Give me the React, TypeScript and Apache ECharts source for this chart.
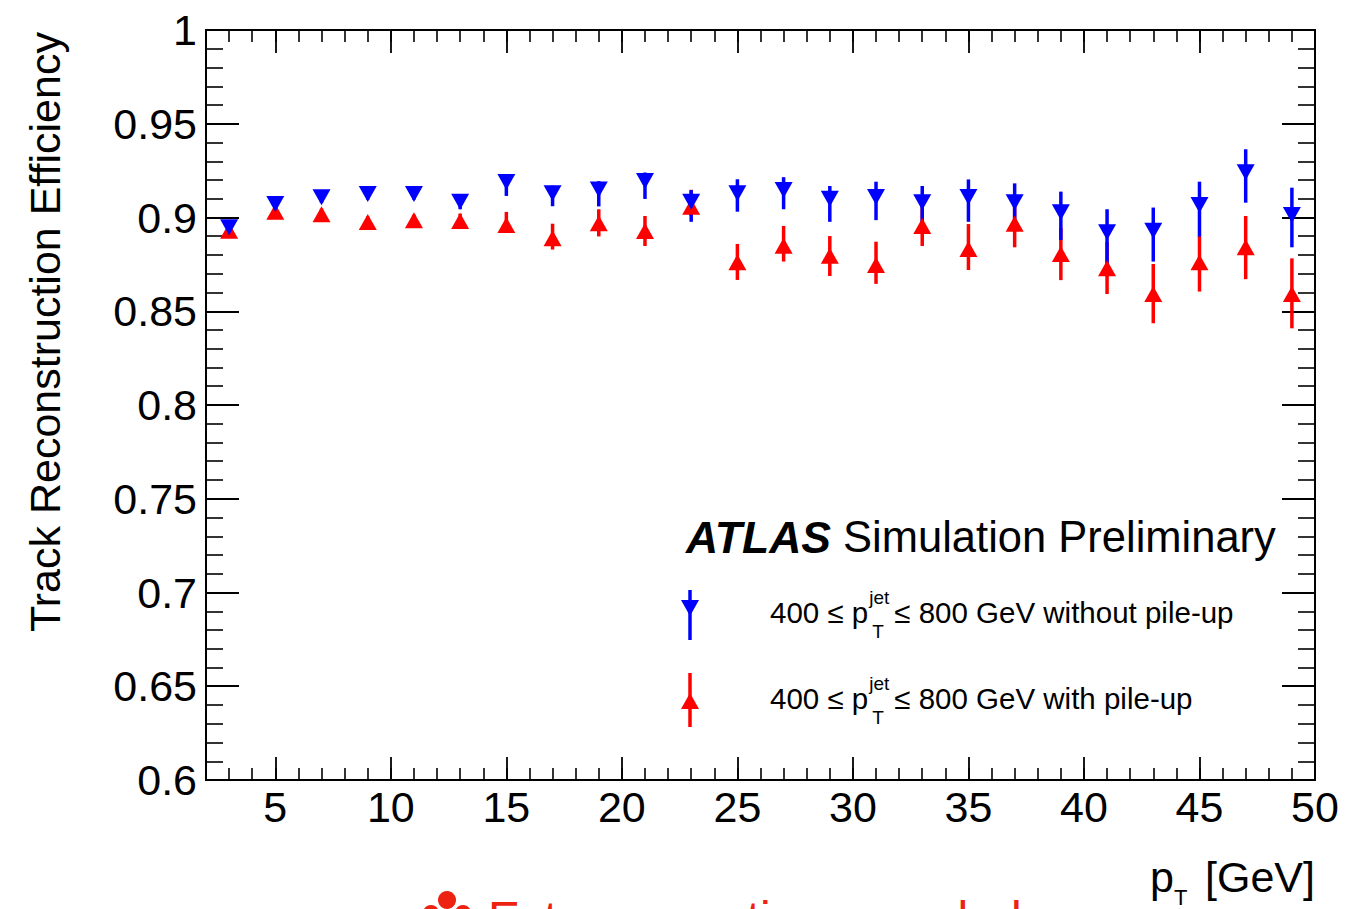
import React, { useEffect, useRef } from "react";
import * as echarts from "echarts";

// ---- data ----
const PT = [3, 5, 7, 9, 11, 13, 15, 17, 19, 21, 23, 25, 27, 29, 31, 33, 35, 37, 39, 41, 43, 45, 47, 49];

// 400 <= pT(jet) <= 800 GeV without pile-up (blue, down triangles)
const NOPU_EFF = [0.8948, 0.9072, 0.9108, 0.9125, 0.9125, 0.9084, 0.919, 0.913, 0.9149, 0.9195, 0.9084, 0.9129,
  0.9147, 0.91, 0.9109, 0.9081, 0.9109, 0.9081, 0.9028, 0.8921, 0.893, 0.9067, 0.9241, 0.9013];
const NOPU_ERR_UP = [0.002, 0.002, 0.002, 0.002, 0.002, 0.003, 0.004, 0.004, 0.0045, 0.0045, 0.0062, 0.0075,
  0.0068, 0.0068, 0.0082, 0.0087, 0.0094, 0.0101, 0.011, 0.0123, 0.0123, 0.0124, 0.0123, 0.0146];
const NOPU_ERR_DN = [0.003, 0.003, 0.003, 0.003, 0.003, 0.004, 0.0075, 0.007, 0.009, 0.0096, 0.0107, 0.0098,
  0.0103, 0.0123, 0.0123, 0.0121, 0.0132, 0.014, 0.0148, 0.0165, 0.0165, 0.0169, 0.0162, 0.0172];

// 400 <= pT(jet) <= 800 GeV with pile-up (red, up triangles)
const PU_EFF = [0.893, 0.9031, 0.9017, 0.8976, 0.8985, 0.8981, 0.896, 0.8889, 0.8969, 0.8928, 0.9058, 0.8761,
  0.885, 0.8796, 0.8747, 0.8955, 0.8832, 0.8967, 0.8805, 0.8729, 0.8592, 0.8761, 0.8841, 0.8592];
const PU_ERR_UP = [0.002, 0.003, 0.003, 0.003, 0.003, 0.004, 0.007, 0.0078, 0.0075, 0.008, 0.009, 0.0098,
  0.0105, 0.0105, 0.0124, 0.011, 0.0133, 0.012, 0.014, 0.014, 0.016, 0.014, 0.0167, 0.019];
const PU_ERR_DN = [0.002, 0.003, 0.003, 0.003, 0.003, 0.004, 0.004, 0.006, 0.007, 0.008, 0.005, 0.0094,
  0.0085, 0.0108, 0.0101, 0.0107, 0.0112, 0.0126, 0.0139, 0.0137, 0.0156, 0.0156, 0.017, 0.0183];

const X_MIN = 2;
const X_MAX = 50;
const X_MAJOR_TICKS = [5, 10, 15, 20, 25, 30, 35, 40, 45, 50];
const Y_MIN = 0.6;
const Y_MAX = 1;
const Y_STEP = 0.05;

const Y_TITLE = "Track Reconstruction Efficiency";
const X_TITLE_MAIN = "p";
const X_TITLE_SUB = "T";
const X_TITLE_UNIT = "[GeV]";
const ATLAS_LABEL = "ATLAS";
const ATLAS_SUFFIX = " Simulation Preliminary";
const LEG_PREFIX = "400 \u2264 p";
const LEG_SUP = "jet";
const LEG_SUB = "T";
const LEG_NOPU = "\u2264 800 GeV without pile-up";
const LEG_PU = "\u2264 800 GeV with pile-up";
const FOOT_TEXT = "Extra corrections needed";

const BLUE = "#0000ff";
const RED = "#ff0000";
const FONT = "'Liberation Sans', Arial, Helvetica, sans-serif";

function measure(text: string, font: string): number {
  const ctx = document.createElement("canvas").getContext("2d");
  if (!ctx) return text.length * 15;
  ctx.font = font;
  return ctx.measureText(text).width;
}

const errRender = (color: string) => (params: any, api: any) => {
  const x = api.value(0);
  const lo = api.value(2);
  const hi = api.value(3);
  const p1 = api.coord([x, lo]);
  const p2 = api.coord([x, hi]);
  return {
    type: "line",
    shape: { x1: p1[0], y1: p1[1], x2: p2[0], y2: p2[1] },
    style: { stroke: color, lineWidth: 3.5 },
  };
};

function xAxisDef(position: "top" | "bottom", major: boolean, labels: boolean) {
  return {
    type: "value",
    position,
    min: X_MIN,
    max: X_MAX,
    interval: 1,
    axisLine: { show: true, onZero: false, lineStyle: { color: "#000", width: 2 } },
    axisTick: major
      ? { show: true, inside: true, length: 23, customValues: X_MAJOR_TICKS, lineStyle: { color: "#000", width: 1.8 } }
      : { show: true, inside: true, length: 12, lineStyle: { color: "#000", width: 1.6 } },
    axisLabel: labels
      ? {
          show: true,
          customValues: X_MAJOR_TICKS,
          formatter: (v: number) => String(v),
          fontSize: 43,
          fontFamily: FONT,
          color: "#000",
          margin: 5,
        }
      : { show: false },
    splitLine: { show: false },
  };
}

function yAxisDef(position: "left" | "right", labels: boolean) {
  return {
    type: "value",
    position,
    min: Y_MIN,
    max: Y_MAX,
    interval: Y_STEP,
    axisLine: { show: true, onZero: false, lineStyle: { color: "#000", width: 2 } },
    axisTick: { show: true, inside: true, length: 33, lineStyle: { color: "#000", width: 1.8 } },
    minorTick: { show: true, splitNumber: 5, length: 17, lineStyle: { color: "#000", width: 1.6 } },
    axisLabel: labels
      ? {
          show: true,
          formatter: (v: number) => String(+v.toFixed(2)),
          fontSize: 43,
          fontFamily: FONT,
          color: "#000",
          margin: 9,
        }
      : { show: false },
    splitLine: { show: false },
    minorSplitLine: { show: false },
  };
}

export default function App() {
  const ref = useRef<HTMLDivElement>(null);

  useEffect(() => {
    if (!ref.current) return;
    document.body.style.margin = "0";
    const chart = echarts.init(ref.current, undefined, { renderer: "svg" });

    const legFont = `29.5px ${FONT}`;
    const legX = 770;
    const prefixW = measure(LEG_PREFIX, legFont);
    const supX = legX + prefixW + 1;
    const restX = supX + measure(LEG_SUP, `19px ${FONT}`) + 5;

    const legendRow = (y: number, color: string, down: boolean, label: string, barTop: number, barBot: number) => {
      const triY = down ? y - 4 : y + 3;
      const pts = down
        ? [[681, triY - 8], [699, triY - 8], [690, triY + 8]]
        : [[681, triY + 8], [699, triY + 8], [690, triY - 8]];
      return [
        { type: "line", shape: { x1: 690, y1: barTop, x2: 690, y2: barBot }, style: { stroke: color, lineWidth: 3.5 } },
        { type: "polygon", shape: { points: pts }, style: { fill: color } },
        {
          type: "text",
          x: legX,
          y,
          style: { text: LEG_PREFIX, font: legFont, fill: "#000", align: "left", verticalAlign: "middle" },
        },
        {
          type: "text",
          x: supX,
          y: y - 15,
          style: { text: LEG_SUP, font: `19px ${FONT}`, fill: "#000", align: "left", verticalAlign: "middle" },
        },
        {
          type: "text",
          x: supX + 3,
          y: y + 19,
          style: { text: LEG_SUB, font: `19px ${FONT}`, fill: "#000", align: "left", verticalAlign: "middle" },
        },
        {
          type: "text",
          x: restX,
          y,
          style: { text: label, font: legFont, fill: "#000", align: "left", verticalAlign: "middle" },
        },
      ];
    };

    const option: any = {
      animation: false,
      backgroundColor: "#fff",
      grid: { left: 206, right: 46, top: 30, bottom: 129, containLabel: false },
      xAxis: [
        xAxisDef("bottom", false, true),
        xAxisDef("bottom", true, false),
        xAxisDef("top", false, false),
        xAxisDef("top", true, false),
      ],
      yAxis: [yAxisDef("left", true), yAxisDef("right", false)],
      series: [
        {
          type: "custom",
          name: "pu-err",
          xAxisIndex: 0,
          yAxisIndex: 0,
          silent: true,
          renderItem: errRender(RED),
          encode: { x: 0, y: 1 },
          data: PT.map((x, i) => [x, PU_EFF[i], PU_EFF[i] - PU_ERR_DN[i], PU_EFF[i] + PU_ERR_UP[i]]),
        },
        {
          type: "scatter",
          name: "pu",
          xAxisIndex: 0,
          yAxisIndex: 0,
          silent: true,
          symbol: "triangle",
          symbolSize: [18, 16],
          itemStyle: { color: RED, opacity: 1 },
          data: PT.map((x, i) => [x, PU_EFF[i]]),
        },
        {
          type: "custom",
          name: "nopu-err",
          xAxisIndex: 0,
          yAxisIndex: 0,
          silent: true,
          renderItem: errRender(BLUE),
          encode: { x: 0, y: 1 },
          data: PT.map((x, i) => [x, NOPU_EFF[i], NOPU_EFF[i] - NOPU_ERR_DN[i], NOPU_EFF[i] + NOPU_ERR_UP[i]]),
        },
        {
          type: "scatter",
          name: "nopu",
          xAxisIndex: 0,
          yAxisIndex: 0,
          silent: true,
          symbol: "triangle",
          symbolRotate: 180,
          symbolSize: [18, 16],
          itemStyle: { color: BLUE, opacity: 1 },
          data: PT.map((x, i) => [x, NOPU_EFF[i]]),
        },
      ],
      graphic: [
        {
          type: "text",
          x: 45,
          y: 332,
          rotation: Math.PI / 2,
          style: { text: Y_TITLE, font: `43px ${FONT}`, fill: "#000", align: "center", verticalAlign: "middle" },
        },
        {
          type: "text",
          x: 1315,
          y: 877,
          style: { text: X_TITLE_UNIT, font: `43px ${FONT}`, fill: "#000", align: "right", verticalAlign: "middle" },
        },
        {
          type: "text",
          x: 1150,
          y: 877,
          style: { text: X_TITLE_MAIN, font: `43px ${FONT}`, fill: "#000", align: "left", verticalAlign: "middle" },
        },
        {
          type: "text",
          x: 1174,
          y: 897,
          style: { text: X_TITLE_SUB, font: `22px ${FONT}`, fill: "#000", align: "left", verticalAlign: "middle" },
        },
        {
          type: "text",
          x: 686,
          y: 537,
          style: {
            text: `{b|${ATLAS_LABEL}}{n|${ATLAS_SUFFIX}}`,
            align: "left",
            verticalAlign: "middle",
            rich: {
              b: { fontSize: 44.5, fontFamily: FONT, fontWeight: "bold", fontStyle: "italic", fill: "#000", color: "#000" },
              n: { fontSize: 43.5, fontFamily: FONT, fill: "#000", color: "#000" },
            },
          },
        },
        ...legendRow(612, BLUE, true, LEG_NOPU, 590, 640),
        ...legendRow(698, RED, false, LEG_PU, 673, 727),
        { type: "circle", shape: { cx: 447, cy: 900, r: 9 }, style: { fill: "#ee2211" } },
        { type: "circle", shape: { cx: 431, cy: 913, r: 8 }, style: { fill: "#ee2211" } },
        { type: "circle", shape: { cx: 463, cy: 913, r: 8 }, style: { fill: "#ee2211" } },
        {
          type: "text",
          x: 488,
          y: 918,
          style: { text: FOOT_TEXT, font: `48px ${FONT}`, fill: "#ee2211", align: "left", verticalAlign: "middle" },
        },
      ],
    };

    chart.setOption(option);
    return () => chart.dispose();
  }, []);

  return (
    <div
      ref={ref}
      style={{ position: "fixed", left: 0, top: 0, width: 1361, height: 909, background: "#fff" }}
    />
  );
}
